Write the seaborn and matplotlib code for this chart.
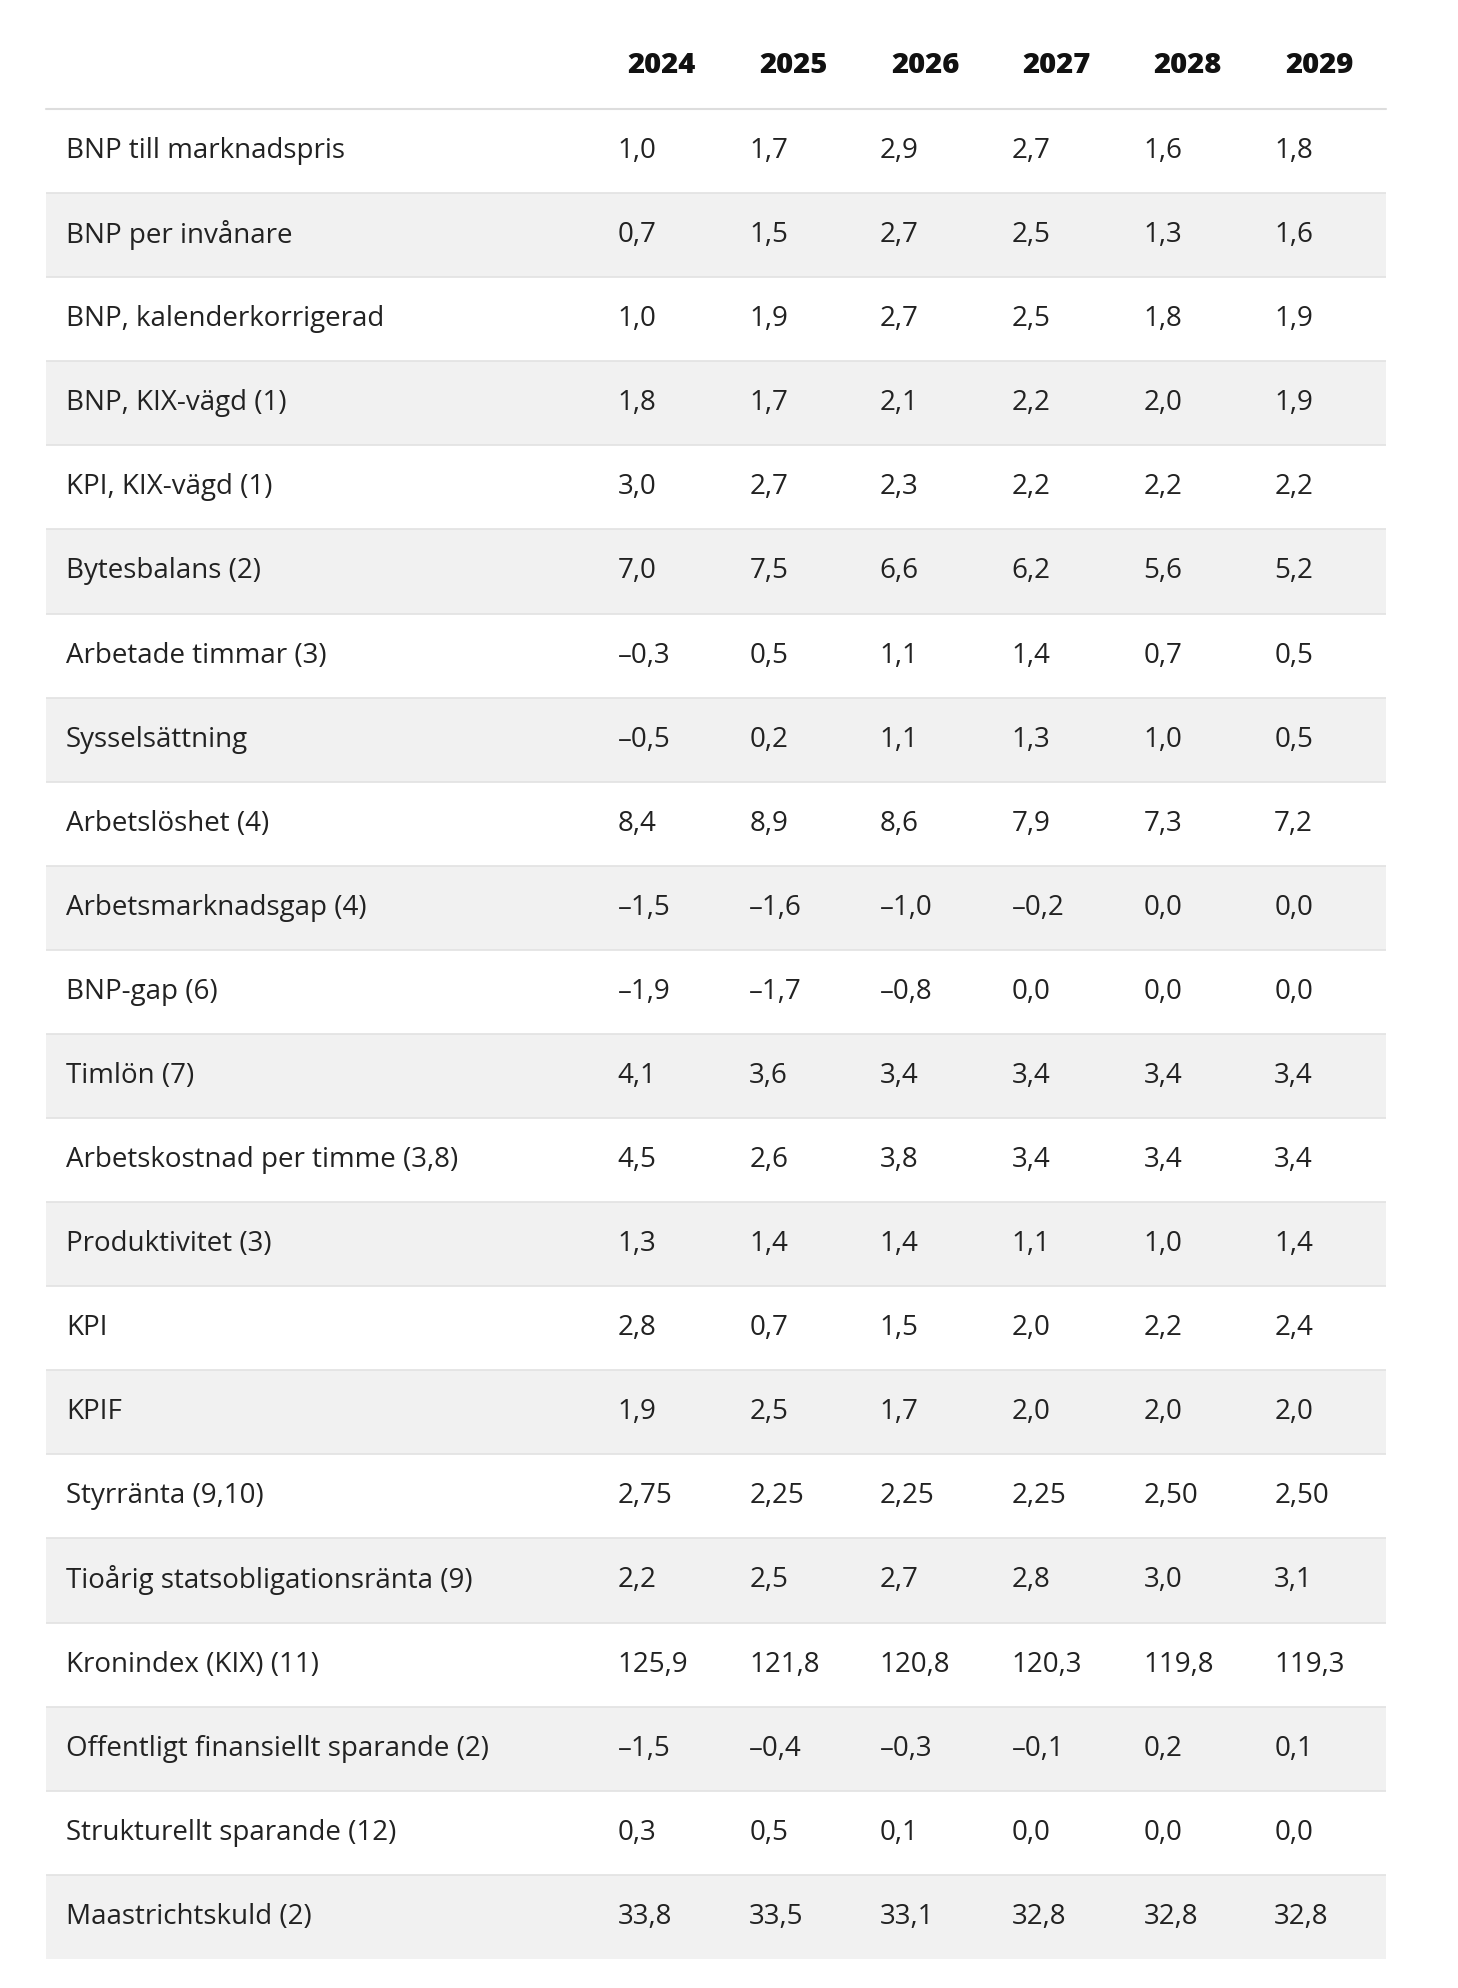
import seaborn as sns
import matplotlib.pyplot as plt
import matplotlib.transforms as mtransforms
import numpy as np

years = ['2024', '2025', '2026', '2027', '2028', '2029']
labels = ['BNP till marknadspris', 'BNP per invånare', 'BNP, kalenderkorrigerad',
          'BNP, KIX-vägd (1)', 'KPI, KIX-vägd (1)', 'Bytesbalans (2)',
          'Arbetade timmar (3)', 'Sysselsättning', 'Arbetslöshet (4)',
          'Arbetsmarknadsgap (4)', 'BNP-gap (6)', 'Timlön (7)',
          'Arbetskostnad per timme (3,8)', 'Produktivitet (3)', 'KPI', 'KPIF',
          'Styrränta (9,10)', 'Tioårig statsobligationsränta (9)',
          'Kronindex (KIX) (11)', 'Offentligt finansiellt sparande (2)',
          'Strukturellt sparande (12)', 'Maastrichtskuld (2)']
values = [
    ['1,0', '1,7', '2,9', '2,7', '1,6', '1,8'],
    ['0,7', '1,5', '2,7', '2,5', '1,3', '1,6'],
    ['1,0', '1,9', '2,7', '2,5', '1,8', '1,9'],
    ['1,8', '1,7', '2,1', '2,2', '2,0', '1,9'],
    ['3,0', '2,7', '2,3', '2,2', '2,2', '2,2'],
    ['7,0', '7,5', '6,6', '6,2', '5,6', '5,2'],
    ['–0,3', '0,5', '1,1', '1,4', '0,7', '0,5'],
    ['–0,5', '0,2', '1,1', '1,3', '1,0', '0,5'],
    ['8,4', '8,9', '8,6', '7,9', '7,3', '7,2'],
    ['–1,5', '–1,6', '–1,0', '–0,2', '0,0', '0,0'],
    ['–1,9', '–1,7', '–0,8', '0,0', '0,0', '0,0'],
    ['4,1', '3,6', '3,4', '3,4', '3,4', '3,4'],
    ['4,5', '2,6', '3,8', '3,4', '3,4', '3,4'],
    ['1,3', '1,4', '1,4', '1,1', '1,0', '1,4'],
    ['2,8', '0,7', '1,5', '2,0', '2,2', '2,4'],
    ['1,9', '2,5', '1,7', '2,0', '2,0', '2,0'],
    ['2,75', '2,25', '2,25', '2,25', '2,50', '2,50'],
    ['2,2', '2,5', '2,7', '2,8', '3,0', '3,1'],
    ['125,9', '121,8', '120,8', '120,3', '119,8', '119,3'],
    ['–1,5', '–0,4', '–0,3', '–0,1', '0,2', '0,1'],
    ['0,3', '0,5', '0,1', '0,0', '0,0', '0,0'],
    ['33,8', '33,5', '33,1', '32,8', '32,8', '32,8'],
]

sns.set_theme(style='white')
plt.rcParams['font.family'] = ['Open Sans', 'DejaVu Sans']

W, H = 1150.0, 1568.0
fig = plt.figure(figsize=(14.58, 19.88), dpi=100)
left, right, top, bottom = 36, 1093, 86, 1545
ax = fig.add_axes([left / W, 1 - bottom / H, (right - left) / W, (bottom - top) / H])

n = len(labels)
shade = np.array([[i % 2] for i in range(n)])
sns.heatmap(shade, ax=ax, cmap=['#ffffff', '#f1f1f1'], cbar=False,
            xticklabels=False, yticklabels=False, linewidths=0)
for i in range(1, n):
    ax.axhline(i, color='#e2e2e2', lw=1.2)

tr = mtransforms.blended_transform_factory(ax.transAxes, ax.transData)
tw = right - left
col_x = [487, 591, 694, 798, 902, 1005]
head_x = [522, 626, 730, 833, 937, 1041]
fs = 20
for i, lab in enumerate(labels):
    ax.text((52 - left) / tw, i + 0.5, lab, transform=tr, va='center',
            ha='left', fontsize=fs, color='#222222')
    for j, v in enumerate(values[i]):
        ax.text((col_x[j] - left) / tw, i + 0.5, v, transform=tr, va='center',
                ha='left', fontsize=fs, color='#222222')

for j, y in enumerate(years):
    fig.text(head_x[j] / W, 1 - 52 / H, y, ha='center', va='center',
             fontsize=21, fontweight='heavy', color='#111111')
fig.add_artist(plt.Line2D([left / W, right / W], [1 - top / H, 1 - top / H],
                          color='#dddddd', lw=1.5))

fig.savefig('out.png', dpi=100)
